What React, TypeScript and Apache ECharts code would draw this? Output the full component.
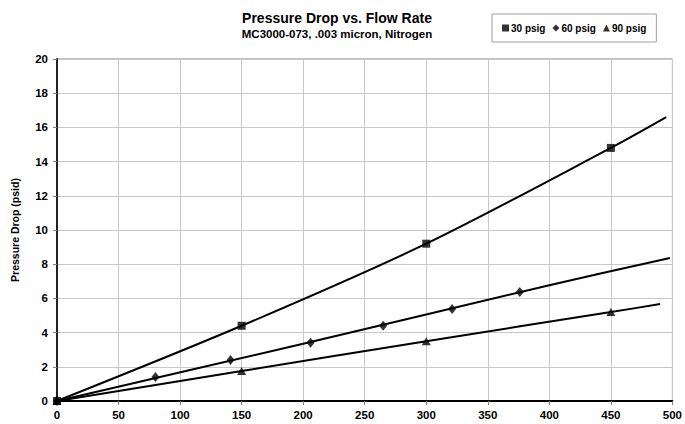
import React, { useEffect, useRef } from "react";
import * as echarts from "echarts";

// Measured data points (flow rate, pressure drop)
const psig30Points: number[][] = [[0, 0], [150, 4.4], [300, 9.2], [450, 14.8]];
const psig60Points: number[][] = [[0, 0], [80, 1.4], [141, 2.4], [206, 3.4], [265, 4.4], [321, 5.38], [376, 6.37]];
const psig90Points: number[][] = [[0, 0], [150, 1.75], [300, 3.5], [450, 5.2]];

// Trend lines
const psig30Trend: number[][] = [[0, 0], [150, 4.4], [300, 9.2], [450, 14.8], [495, 16.6]];
const psig60Trend: number[][] = [[0, 0], [200, 3.35], [400, 6.77], [498, 8.36]];
const psig90Trend: number[][] = [[0, 0], [150, 1.75], [300, 3.5], [450, 5.2], [490, 5.67]];

const seriesNames = ["30 psig", "60 psig", "90 psig"];
const titleText = "Pressure Drop vs. Flow Rate";
const subtitleText = "MC3000-073, .003 micron, Nitrogen";
const yAxisName = "Pressure Drop (psid)";

const FONT = "'Liberation Sans', Arial, sans-serif";

export default function App() {
  const ref = useRef<HTMLDivElement>(null);
  useEffect(() => {
    if (!ref.current) return;
    const chart = echarts.init(ref.current, null, { renderer: "svg" });
    const trendStyle = { color: "#000", width: 2 };
    chart.setOption({
      animation: false,
      backgroundColor: "#fff",
      textStyle: { fontFamily: FONT },
      title: {
        text: titleText,
        subtext: subtitleText,
        left: 337,
        textAlign: "center",
        top: 11,
        itemGap: 3,
        padding: 0,
        textStyle: { fontSize: 14, fontWeight: "bold", color: "#000", fontFamily: FONT },
        subtextStyle: { fontSize: 11.5, fontWeight: "bold", color: "#000", fontFamily: FONT },
      },
      legend: {
        data: [
          { name: seriesNames[0], icon: "rect" },
          { name: seriesNames[1], icon: "diamond" },
          { name: seriesNames[2], icon: "triangle" },
        ],
        left: 492,
        top: 14,
        padding: [9, 10, 9, 10],
        itemGap: 7,
        itemWidth: 7,
        itemHeight: 7,
        borderColor: "#a0a0a0",
        borderWidth: 1,
        textStyle: { fontSize: 10, fontWeight: "bold", color: "#000", fontFamily: FONT, padding: [0, 0, 0, -3] },
      },
      grid: {
        left: 57,
        right: 9,
        top: 59,
        bottom: 23,
        show: true,
        borderColor: "#808080",
        borderWidth: 1,
      },
      xAxis: {
        type: "value",
        min: 0,
        max: 500,
        interval: 50,
        axisLine: { lineStyle: { color: "#000", width: 2 } },
        axisTick: { show: true, length: 4, lineStyle: { color: "#808080" } },
        axisLabel: { color: "#000", fontSize: 11.5, fontWeight: "bold", margin: 8, fontFamily: FONT },
        splitLine: { show: true, lineStyle: { color: "#c8c8c8", width: 1 } },
      },
      yAxis: {
        type: "value",
        min: 0,
        max: 20,
        interval: 2,
        name: yAxisName,
        nameLocation: "middle",
        nameGap: 37,
        nameTextStyle: { fontSize: 10.5, fontWeight: "bold", color: "#000", fontFamily: FONT },
        axisLine: { show: true, lineStyle: { color: "#222", width: 2 } },
        axisTick: { show: true, length: 4, lineStyle: { color: "#808080" } },
        axisLabel: { color: "#000", fontSize: 11.5, fontWeight: "bold", margin: 9, fontFamily: FONT },
        splitLine: { show: true, lineStyle: { color: "#c8c8c8", width: 1 } },
      },
      series: [
        {
          name: seriesNames[0] + " trend",
          type: "line",
          data: psig30Trend,
          smooth: 0.3,
          symbol: "none",
          lineStyle: trendStyle,
          z: 2,
        },
        {
          name: seriesNames[1] + " trend",
          type: "line",
          data: psig60Trend,
          smooth: 0.3,
          symbol: "none",
          lineStyle: trendStyle,
          z: 2,
        },
        {
          name: seriesNames[2] + " trend",
          type: "line",
          data: psig90Trend,
          smooth: 0.3,
          symbol: "none",
          lineStyle: trendStyle,
          z: 2,
        },
        {
          name: seriesNames[0],
          type: "scatter",
          data: psig30Points,
          symbol: "rect",
          symbolSize: 8,
          itemStyle: { color: "#000" },
          z: 3,
        },
        {
          name: seriesNames[1],
          type: "scatter",
          data: psig60Points,
          symbol: "diamond",
          symbolSize: [8, 10],
          itemStyle: { color: "#000" },
          z: 3,
        },
        {
          name: seriesNames[2],
          type: "scatter",
          data: psig90Points,
          symbol: "triangle",
          symbolSize: [9, 8],
          itemStyle: { color: "#000" },
          z: 3,
        },
      ],
    });
    return () => chart.dispose();
  }, []);
  return <div ref={ref} style={{ width: 685, height: 424, position: "absolute", left: 0, top: 0 }} />;
}
